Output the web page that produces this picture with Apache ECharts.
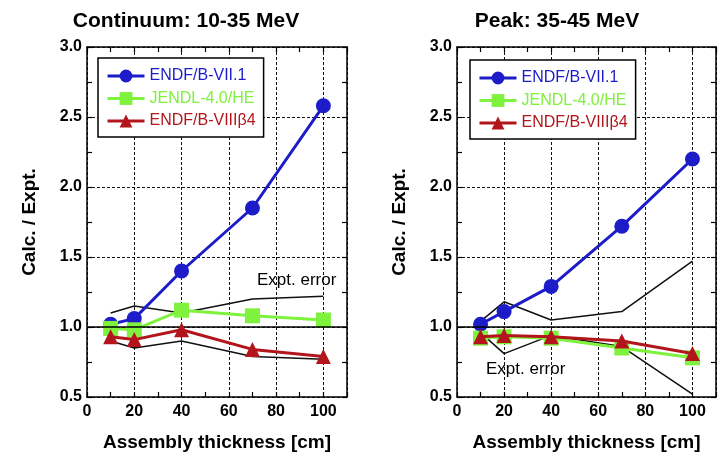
<!DOCTYPE html>
<html>
<head>
<meta charset="utf-8">
<script src="https://cdn.jsdelivr.net/npm/echarts@6/dist/echarts.min.js"></script>
<style>
  html, body { margin: 0; padding: 0; background: #fff; }
  #chart { width: 723px; height: 459px; }
</style>
</head>
<body>
<div id="chart"></div>
<script>
// assembly thickness (cm)
var thickness = [10, 20, 40, 70, 100];
var seriesNames = ['ENDF/B-VII.1', 'JENDL-4.0/HE', 'ENDF/B-VIIIβ4'];
var xTicks = [0, 20, 40, 60, 80, 100];
var yTicks = [0.5, 1.0, 1.5, 2.0, 2.5, 3.0];

// Continuum: 10-35 MeV
var contVII1 = [1.02, 1.06, 1.40, 1.85, 2.58];
var contJENDL = [0.99, 0.98, 1.12, 1.08, 1.05];
var contVIII = [0.93, 0.91, 0.98, 0.84, 0.79];
var contErrHi = [1.10, 1.15, 1.10, 1.20, 1.22];
var contErrLo = [0.90, 0.85, 0.90, 0.79, 0.77];

// Peak: 35-45 MeV
var peakVII1 = [1.02, 1.11, 1.29, 1.72, 2.20];
var peakJENDL = [0.92, 0.93, 0.92, 0.85, 0.78];
var peakVIII = [0.93, 0.94, 0.93, 0.90, 0.81];
var peakErrHi = [1.04, 1.18, 1.05, 1.11, 1.47];
var peakErrLo = [0.96, 0.81, 0.94, 0.86, 0.52];

var BLUE = '#1c1cc8';
var GREEN = '#7ef23c';
var RED = '#b2161c';
var FONT = "'Liberation Sans', Arial, sans-serif";

var pair = function (ys) {
  return thickness.map(function (x, i) { return [x, ys[i]]; });
};

var mkX = function (grid, top) {
  return {
    type: 'value', gridIndex: grid, position: top ? 'top' : 'bottom',
    min: xTicks[0], max: 110, interval: 20,
    name: top ? '' : 'Assembly thickness [cm]',
    nameLocation: 'middle', nameGap: 36,
    nameTextStyle: { fontFamily: FONT, fontWeight: 'bold', fontSize: 19, color: '#000' },
    axisLine: { show: true, onZero: false, lineStyle: { color: '#000', width: 1.5 } },
    axisTick: { show: true, inside: true, length: 5, lineStyle: { color: '#000', width: 1.2 } },
    minorTick: { show: true, splitNumber: 2, length: 5, lineStyle: { color: '#000', width: 1.2 } },
    axisLabel: {
      show: !top, showMaxLabel: false, margin: 7,
      fontFamily: FONT, fontWeight: 'bold', fontSize: 16, color: '#000'
    },
    splitLine: top ? { show: false } : { show: true, lineStyle: { color: '#111', type: [3, 2], width: 1 } }
  };
};

var mkY = function (grid, right) {
  return {
    type: 'value', gridIndex: grid, position: right ? 'right' : 'left',
    min: yTicks[0], max: yTicks[yTicks.length - 1], interval: 0.5,
    name: right ? '' : 'Calc. / Expt.',
    nameLocation: 'middle', nameGap: 48,
    nameTextStyle: { fontFamily: FONT, fontWeight: 'bold', fontSize: 19, color: '#000' },
    axisLine: { show: true, onZero: false, lineStyle: { color: '#000', width: 1.5 } },
    axisTick: { show: true, inside: true, length: 5, lineStyle: { color: '#000', width: 1.2 } },
    minorTick: { show: true, splitNumber: 2, length: 5, lineStyle: { color: '#000', width: 1.2 } },
    axisLabel: {
      show: !right, margin: 5,
      fontFamily: FONT, fontWeight: 'bold', fontSize: 16, color: '#000',
      formatter: function (v) { return v.toFixed(1); }
    },
    splitLine: right ? { show: false } : { show: true, lineStyle: { color: '#111', type: [3, 2], width: 1 } }
  };
};

var errLine = function (data, xi, yi, withOne) {
  var s = {
    type: 'line', xAxisIndex: xi, yAxisIndex: yi, data: pair(data),
    symbol: 'none', silent: true, z: 2,
    lineStyle: { color: '#111', width: 1.5 }
  };
  if (withOne) {
    s.markLine = {
      silent: true, symbol: 'none', label: { show: false },
      lineStyle: { color: '#000', type: 'solid', width: 1.5 },
      data: [{ yAxis: 1.0 }]
    };
  }
  return s;
};

var calcLine = function (name, data, xi, yi, color, symbol, size, z) {
  return {
    type: 'line', name: name, xAxisIndex: xi, yAxisIndex: yi, data: pair(data),
    symbol: symbol, symbolSize: size, z: z,
    itemStyle: { color: color },
    lineStyle: { color: color, width: 3 }
  };
};

var mkLegend = function (left, top) {
  return {
    left: left, top: top, orient: 'vertical',
    backgroundColor: '#fff', borderColor: '#000', borderWidth: 1.5,
    padding: [10, 8, 8, 8], itemWidth: 37, itemHeight: 16, itemGap: 6.5,
    lineStyle: { width: 3 },
    textStyle: { fontFamily: FONT, fontSize: 16 },
    data: [
      { name: seriesNames[0], textStyle: { color: BLUE } },
      { name: seriesNames[1], textStyle: { color: GREEN } },
      { name: seriesNames[2], textStyle: { color: RED } }
    ]
  };
};

var myChart = echarts.init(document.getElementById('chart'));
var option = {
  animation: false,
  backgroundColor: '#fff',
  title: [
    { text: 'Continuum: 10-35 MeV', left: 181, top: 6, textAlign: 'center',
      textStyle: { fontFamily: FONT, fontWeight: 'bold', fontSize: 21, color: '#000' } },
    { text: 'Peak: 35-45 MeV', left: 552, top: 6, textAlign: 'center',
      textStyle: { fontFamily: FONT, fontWeight: 'bold', fontSize: 21, color: '#000' } }
  ],
  legend: [mkLegend(98, 58), mkLegend(470, 60)],
  grid: [
    { left: 87, top: 47, width: 260, height: 350 },
    { left: 457, top: 47, width: 259, height: 350 }
  ],
  xAxis: [mkX(0, false), mkX(0, true), mkX(1, false), mkX(1, true)],
  yAxis: [mkY(0, false), mkY(0, true), mkY(1, false), mkY(1, true)],
  graphic: [
    { type: 'text', left: 257, top: 272, z: 10,
      style: { text: 'Expt. error', fontFamily: FONT, fontSize: 17, fill: '#000' } },
    { type: 'text', left: 486, top: 361, z: 10,
      style: { text: 'Expt. error', fontFamily: FONT, fontSize: 17, fill: '#000' } }
  ],
  series: [
    errLine(contErrHi, 0, 0, true),
    errLine(contErrLo, 0, 0, false),
    calcLine(seriesNames[0], contVII1, 0, 0, BLUE, 'circle', 15, 3),
    calcLine(seriesNames[1], contJENDL, 0, 0, GREEN, 'rect', 15, 4),
    calcLine(seriesNames[2], contVIII, 0, 0, RED, 'triangle', 15, 5),
    errLine(peakErrHi, 2, 2, true),
    errLine(peakErrLo, 2, 2, false),
    calcLine(seriesNames[0], peakVII1, 2, 2, BLUE, 'circle', 15, 3),
    calcLine(seriesNames[1], peakJENDL, 2, 2, GREEN, 'rect', 15, 4),
    calcLine(seriesNames[2], peakVIII, 2, 2, RED, 'triangle', 15, 5)
  ]
};
myChart.setOption(option);
window.addEventListener('resize', function () {
  myChart.resize();
});
</script>
</body>
</html>
